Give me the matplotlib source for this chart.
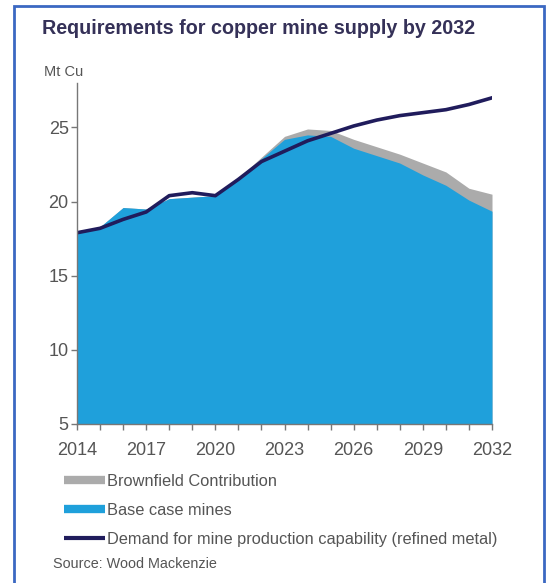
import matplotlib.pyplot as plt
from matplotlib.lines import Line2D
from matplotlib.patches import Rectangle

# === data (Mt Cu) ===
years = list(range(2014, 2033))
base_case = [17.9, 18.3, 19.6, 19.5, 20.2, 20.3, 20.4, 21.6, 22.9, 24.2, 24.5,
             24.4, 23.6, 23.1, 22.6, 21.8, 21.1, 20.1, 19.35]
brownfield = [0.0, 0.0, 0.0, 0.0, 0.0, 0.0, 0.0, 0.0, 0.1, 0.2, 0.4,
              0.4, 0.6, 0.6, 0.6, 0.8, 0.9, 0.8, 1.15]
demand = [17.9, 18.2, 18.8, 19.3, 20.4, 20.6, 20.4, 21.5, 22.7, 23.4, 24.1,
          24.6, 25.1, 25.5, 25.8, 26.0, 26.2, 26.55, 27.0]
xtick_years = [2014, 2017, 2020, 2023, 2026, 2029, 2032]
ytick_vals = [5, 10, 15, 20, 25]

# === colours ===
c_base = "#1FA0DB"
c_brown = "#ABABAB"
c_demand = "#201C5C"
c_text = "#555555"
c_title = "#353158"
c_border = "#3B68C2"

plt.rcParams["font.family"] = ["Liberation Sans", "DejaVu Sans"]

fig = plt.figure(figsize=(5.47, 5.83), dpi=100)
ax = fig.add_axes([77 / 547, 1 - 424 / 583, 415 / 547, 341 / 583])

total = [b + g for b, g in zip(base_case, brownfield)]
ax.fill_between(years, 5, total, color=c_brown, lw=0)
ax.fill_between(years, 5, base_case, color=c_base, lw=0)
ax.plot(years, demand, color=c_demand, lw=2.6, solid_joinstyle="round")

ax.set_xlim(2014, 2032)
ax.set_ylim(5, 28)
ax.set_xticks(years)
ax.set_xticklabels([str(y) if y in xtick_years else "" for y in years])
ax.set_yticks(ytick_vals)

for s in ["top", "right"]:
    ax.spines[s].set_visible(False)
for s in ["left", "bottom"]:
    ax.spines[s].set_color("#777777")
    ax.spines[s].set_linewidth(1.0)
ax.tick_params(axis="both", direction="out", length=4, width=1, color="#777777",
               labelsize=13, labelcolor=c_text, pad=2)
ax.tick_params(axis="x", pad=9)

# titles
fig.text(42 / 547, 1 - 28 / 583, "Requirements for copper mine supply by 2032",
         fontsize=14.2, fontweight="bold", color=c_title, va="center", ha="left")
fig.text(44 / 547, 1 - 72 / 583, "Mt Cu", fontsize=10.5, color=c_text,
         va="center", ha="left")

# legend
handles = [Line2D([], [], color=c_brown, lw=6, solid_capstyle="butt"),
           Line2D([], [], color=c_base, lw=6, solid_capstyle="butt"),
           Line2D([], [], color=c_demand, lw=3, solid_capstyle="butt")]
labels = ["Brownfield Contribution", "Base case mines",
          "Demand for mine production capability (refined metal)"]
fig.legend(handles, labels, loc="upper left", bbox_to_anchor=(64 / 547, 1 - 474 / 583),
           frameon=False, fontsize=11.8, labelcolor=c_text, handlelength=2.5,
           handletextpad=0.15, labelspacing=0.86, borderaxespad=0, borderpad=0)

fig.text(53 / 547, 1 - 564 / 583, "Source: Wood Mackenzie", fontsize=10.4,
         color=c_text, va="center", ha="left")

# blue frame
fig.patches.append(Rectangle((14 / 547, -0.02), 530 / 547, 1.02 - 6 / 583,
                             transform=fig.transFigure, fill=False,
                             edgecolor=c_border, lw=2))

fig.savefig("out.png", dpi=100)
